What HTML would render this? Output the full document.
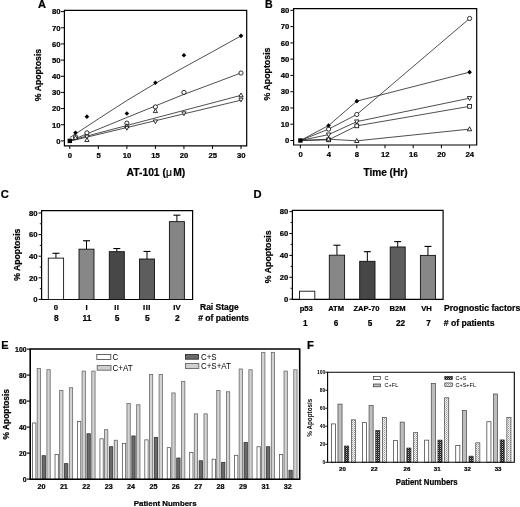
<!DOCTYPE html><html><head><meta charset="utf-8"><title>Figure</title>
<style>html,body{margin:0;padding:0;background:#fff;}svg{display:block;will-change:transform;}text{font-family:"Liberation Sans", sans-serif;}text[font-weight=bold]{stroke:#000;stroke-width:0.22px;}</style></head><body>
<svg width="520" height="507" viewBox="0 0 520 507">
<defs><pattern id="pd" width="2" height="2" patternUnits="userSpaceOnUse"><rect width="2" height="2" fill="#1c1c1c"/><rect x="0" y="0" width="1" height="1" fill="#b5b5b5"/><rect x="1" y="1" width="1" height="1" fill="#505050"/></pattern><pattern id="pl" width="2" height="2" patternUnits="userSpaceOnUse"><rect width="2" height="2" fill="#f4f4f4"/><rect x="0" y="0" width="1" height="1" fill="#9a9a9a"/><rect x="1" y="1" width="1" height="1" fill="#c4c4c4"/></pattern></defs>
<rect width="520" height="507" fill="#fff"/>
<text x="38" y="8.4" font-size="11" font-weight="bold" text-anchor="start" fill="#000">A</text>
<path d="M64.4 10.4V145.8H246.7V10.4Z" fill="none" stroke="#000" stroke-width="1.2"/>
<line x1="61" y1="140.9" x2="64.4" y2="140.9" stroke="#000" stroke-width="1"/>
<text x="60.6" y="143.7" font-size="7.7" font-weight="bold" text-anchor="end" fill="#000">0</text>
<line x1="61" y1="124.74" x2="64.4" y2="124.74" stroke="#000" stroke-width="1"/>
<text x="60.6" y="127.54" font-size="7.7" font-weight="bold" text-anchor="end" fill="#000">10</text>
<line x1="61" y1="108.58" x2="64.4" y2="108.58" stroke="#000" stroke-width="1"/>
<text x="60.6" y="111.38" font-size="7.7" font-weight="bold" text-anchor="end" fill="#000">20</text>
<line x1="61" y1="92.42" x2="64.4" y2="92.42" stroke="#000" stroke-width="1"/>
<text x="60.6" y="95.22" font-size="7.7" font-weight="bold" text-anchor="end" fill="#000">30</text>
<line x1="61" y1="76.26" x2="64.4" y2="76.26" stroke="#000" stroke-width="1"/>
<text x="60.6" y="79.06" font-size="7.7" font-weight="bold" text-anchor="end" fill="#000">40</text>
<line x1="61" y1="60.1" x2="64.4" y2="60.1" stroke="#000" stroke-width="1"/>
<text x="60.6" y="62.9" font-size="7.7" font-weight="bold" text-anchor="end" fill="#000">50</text>
<line x1="61" y1="43.94" x2="64.4" y2="43.94" stroke="#000" stroke-width="1"/>
<text x="60.6" y="46.74" font-size="7.7" font-weight="bold" text-anchor="end" fill="#000">60</text>
<line x1="61" y1="27.78" x2="64.4" y2="27.78" stroke="#000" stroke-width="1"/>
<text x="60.6" y="30.58" font-size="7.7" font-weight="bold" text-anchor="end" fill="#000">70</text>
<line x1="61" y1="11.62" x2="64.4" y2="11.62" stroke="#000" stroke-width="1"/>
<text x="60.6" y="14.42" font-size="7.7" font-weight="bold" text-anchor="end" fill="#000">80</text>
<line x1="69.8" y1="145.8" x2="69.8" y2="149" stroke="#000" stroke-width="1"/>
<text x="70" y="157.8" font-size="7.7" font-weight="bold" text-anchor="middle" fill="#000">0</text>
<line x1="98.33" y1="145.8" x2="98.33" y2="149" stroke="#000" stroke-width="1"/>
<text x="98.53" y="157.8" font-size="7.7" font-weight="bold" text-anchor="middle" fill="#000">5</text>
<line x1="126.87" y1="145.8" x2="126.87" y2="149" stroke="#000" stroke-width="1"/>
<text x="127.07" y="157.8" font-size="7.7" font-weight="bold" text-anchor="middle" fill="#000">10</text>
<line x1="155.41" y1="145.8" x2="155.41" y2="149" stroke="#000" stroke-width="1"/>
<text x="155.6" y="157.8" font-size="7.7" font-weight="bold" text-anchor="middle" fill="#000">15</text>
<line x1="183.94" y1="145.8" x2="183.94" y2="149" stroke="#000" stroke-width="1"/>
<text x="184.14" y="157.8" font-size="7.7" font-weight="bold" text-anchor="middle" fill="#000">20</text>
<line x1="212.47" y1="145.8" x2="212.47" y2="149" stroke="#000" stroke-width="1"/>
<text x="212.67" y="157.8" font-size="7.7" font-weight="bold" text-anchor="middle" fill="#000">25</text>
<line x1="241.01" y1="145.8" x2="241.01" y2="149" stroke="#000" stroke-width="1"/>
<text x="241.21" y="157.8" font-size="7.7" font-weight="bold" text-anchor="middle" fill="#000">30</text>
<text x="126.6" y="175.8" font-size="10.3" font-weight="bold" text-anchor="start" fill="#000">AT-101 (<tspan font-weight="normal">μ</tspan><tspan dx="1.3">M)</tspan></text>
<text x="41.2" y="75" font-size="8.7" font-weight="bold" text-anchor="middle" fill="#000" transform="rotate(-90 41.2 75)">% Apoptosis</text>
<polyline points="69.8,137.67 98.33,118.92 126.87,100.5 155.41,83.37 183.94,67.37 212.47,51.7 241.01,35.86" fill="none" stroke="#222" stroke-width="0.8"/>
<polyline points="69.8,140.9 126.87,117.47 183.94,94.36 241.01,73.03" fill="none" stroke="#222" stroke-width="0.8"/>
<polyline points="69.8,140.58 241.01,95.33" fill="none" stroke="#222" stroke-width="0.8"/>
<polyline points="69.8,141.22 241.01,100.18" fill="none" stroke="#222" stroke-width="0.8"/>
<path d="M75.51 130.52L77.81 132.82L75.51 135.12L73.21 132.82Z" fill="#000"/>
<path d="M86.92 114.36L89.22 116.66L86.92 118.96L84.62 116.66Z" fill="#000"/>
<path d="M126.87 111.13L129.17 113.43L126.87 115.73L124.57 113.43Z" fill="#000"/>
<path d="M155.41 80.42L157.71 82.72L155.41 85.02L153.1 82.72Z" fill="#000"/>
<path d="M183.94 52.95L186.24 55.25L183.94 57.55L181.64 55.25Z" fill="#000"/>
<path d="M241.01 33.56L243.31 35.86L241.01 38.16L238.71 35.86Z" fill="#000"/>
<circle cx="75.51" cy="136.86" r="2.1" fill="#fff" stroke="#000" stroke-width="0.8"/>
<circle cx="86.92" cy="132.82" r="2.1" fill="#fff" stroke="#000" stroke-width="0.8"/>
<circle cx="126.87" cy="123.12" r="2.1" fill="#fff" stroke="#000" stroke-width="0.8"/>
<circle cx="155.41" cy="106.96" r="2.1" fill="#fff" stroke="#000" stroke-width="0.8"/>
<circle cx="183.94" cy="92.42" r="2.1" fill="#fff" stroke="#000" stroke-width="0.8"/>
<circle cx="241.01" cy="73.03" r="2.1" fill="#fff" stroke="#000" stroke-width="0.8"/>
<path d="M75.51 135.47L77.61 139.27L73.41 139.27Z" fill="#fff" stroke="#000" stroke-width="0.8"/>
<path d="M86.92 137.73L89.02 141.53L84.82 141.53Z" fill="#fff" stroke="#000" stroke-width="0.8"/>
<path d="M126.87 123.83L128.97 127.63L124.77 127.63Z" fill="#fff" stroke="#000" stroke-width="0.8"/>
<path d="M155.41 108.8L157.5 112.6L153.31 112.6Z" fill="#fff" stroke="#000" stroke-width="0.8"/>
<path d="M241.01 92.97L243.11 96.77L238.91 96.77Z" fill="#fff" stroke="#000" stroke-width="0.8"/>
<path d="M86.92 138.9L89.02 135.1L84.82 135.1Z" fill="#fff" stroke="#000" stroke-width="0.8"/>
<path d="M126.87 130.17L128.97 126.37L124.77 126.37Z" fill="#fff" stroke="#000" stroke-width="0.8"/>
<path d="M155.41 123.71L157.5 119.91L153.31 119.91Z" fill="#fff" stroke="#000" stroke-width="0.8"/>
<path d="M183.94 115.63L186.04 111.83L181.84 111.83Z" fill="#fff" stroke="#000" stroke-width="0.8"/>
<path d="M241.01 101.89L243.11 98.09L238.91 98.09Z" fill="#fff" stroke="#000" stroke-width="0.8"/>
<rect x="67.6" y="138.7" width="4.4" height="4.4" fill="#000"/>
<text x="265" y="7.8" font-size="10.6" font-weight="bold" text-anchor="start" fill="#000">B</text>
<path d="M293.6 8.6V145H476.7V8.6Z" fill="none" stroke="#000" stroke-width="1.2"/>
<line x1="290.4" y1="140.5" x2="293.6" y2="140.5" stroke="#000" stroke-width="1"/>
<text x="289.2" y="143.3" font-size="7.7" font-weight="bold" text-anchor="end" fill="#000">0</text>
<line x1="290.4" y1="124.23" x2="293.6" y2="124.23" stroke="#000" stroke-width="1"/>
<text x="289.2" y="127.03" font-size="7.7" font-weight="bold" text-anchor="end" fill="#000">10</text>
<line x1="290.4" y1="107.96" x2="293.6" y2="107.96" stroke="#000" stroke-width="1"/>
<text x="289.2" y="110.76" font-size="7.7" font-weight="bold" text-anchor="end" fill="#000">20</text>
<line x1="290.4" y1="91.69" x2="293.6" y2="91.69" stroke="#000" stroke-width="1"/>
<text x="289.2" y="94.49" font-size="7.7" font-weight="bold" text-anchor="end" fill="#000">30</text>
<line x1="290.4" y1="75.42" x2="293.6" y2="75.42" stroke="#000" stroke-width="1"/>
<text x="289.2" y="78.22" font-size="7.7" font-weight="bold" text-anchor="end" fill="#000">40</text>
<line x1="290.4" y1="59.15" x2="293.6" y2="59.15" stroke="#000" stroke-width="1"/>
<text x="289.2" y="61.95" font-size="7.7" font-weight="bold" text-anchor="end" fill="#000">50</text>
<line x1="290.4" y1="42.88" x2="293.6" y2="42.88" stroke="#000" stroke-width="1"/>
<text x="289.2" y="45.68" font-size="7.7" font-weight="bold" text-anchor="end" fill="#000">60</text>
<line x1="290.4" y1="26.61" x2="293.6" y2="26.61" stroke="#000" stroke-width="1"/>
<text x="289.2" y="29.41" font-size="7.7" font-weight="bold" text-anchor="end" fill="#000">70</text>
<line x1="290.4" y1="10.34" x2="293.6" y2="10.34" stroke="#000" stroke-width="1"/>
<text x="289.2" y="13.14" font-size="7.7" font-weight="bold" text-anchor="end" fill="#000">80</text>
<line x1="300.4" y1="145" x2="300.4" y2="148.2" stroke="#000" stroke-width="1"/>
<text x="300.6" y="157.1" font-size="7.7" font-weight="bold" text-anchor="middle" fill="#000">0</text>
<line x1="328.6" y1="145" x2="328.6" y2="148.2" stroke="#000" stroke-width="1"/>
<text x="328.8" y="157.1" font-size="7.7" font-weight="bold" text-anchor="middle" fill="#000">4</text>
<line x1="356.8" y1="145" x2="356.8" y2="148.2" stroke="#000" stroke-width="1"/>
<text x="357" y="157.1" font-size="7.7" font-weight="bold" text-anchor="middle" fill="#000">8</text>
<line x1="385" y1="145" x2="385" y2="148.2" stroke="#000" stroke-width="1"/>
<text x="385.2" y="157.1" font-size="7.7" font-weight="bold" text-anchor="middle" fill="#000">12</text>
<line x1="413.2" y1="145" x2="413.2" y2="148.2" stroke="#000" stroke-width="1"/>
<text x="413.4" y="157.1" font-size="7.7" font-weight="bold" text-anchor="middle" fill="#000">16</text>
<line x1="441.4" y1="145" x2="441.4" y2="148.2" stroke="#000" stroke-width="1"/>
<text x="441.6" y="157.1" font-size="7.7" font-weight="bold" text-anchor="middle" fill="#000">20</text>
<line x1="469.6" y1="145" x2="469.6" y2="148.2" stroke="#000" stroke-width="1"/>
<text x="469.8" y="157.1" font-size="7.7" font-weight="bold" text-anchor="middle" fill="#000">24</text>
<text x="385.5" y="175.6" font-size="10.1" font-weight="bold" text-anchor="middle" fill="#000">Time (Hr)</text>
<text x="270.4" y="74" font-size="8.8" font-weight="bold" text-anchor="middle" fill="#000" transform="rotate(-90 270.4 74)">% Apoptosis</text>
<polyline points="300.4,140.5 328.6,129.11 356.8,114.47 469.6,18.47" fill="none" stroke="#222" stroke-width="0.8"/>
<polyline points="300.4,140.5 328.6,125.53 356.8,101.13 469.6,72.17" fill="none" stroke="#222" stroke-width="0.8"/>
<polyline points="300.4,140.5 328.6,134.64 356.8,121.63 469.6,98.2" fill="none" stroke="#222" stroke-width="0.8"/>
<polyline points="300.4,140.5 328.6,139.85 356.8,125.86 469.6,106.33" fill="none" stroke="#222" stroke-width="0.8"/>
<polyline points="300.4,140.5 328.6,139.2 356.8,140.83 469.6,129.11" fill="none" stroke="#222" stroke-width="0.8"/>
<circle cx="328.6" cy="129.11" r="2.1" fill="#fff" stroke="#000" stroke-width="0.8"/>
<circle cx="356.8" cy="114.47" r="2.1" fill="#fff" stroke="#000" stroke-width="0.8"/>
<circle cx="469.6" cy="18.47" r="2.1" fill="#fff" stroke="#000" stroke-width="0.8"/>
<path d="M328.6 123.23L330.9 125.53L328.6 127.83L326.3 125.53Z" fill="#000"/>
<path d="M356.8 98.83L359.1 101.13L356.8 103.43L354.5 101.13Z" fill="#000"/>
<path d="M469.6 69.87L471.9 72.17L469.6 74.47L467.3 72.17Z" fill="#000"/>
<path d="M328.6 136.95L330.8 132.96L326.39 132.96Z" fill="#fff" stroke="#000" stroke-width="0.8"/>
<path d="M356.8 123.94L359 119.95L354.59 119.95Z" fill="#fff" stroke="#000" stroke-width="0.8"/>
<path d="M469.6 100.51L471.8 96.52L467.39 96.52Z" fill="#fff" stroke="#000" stroke-width="0.8"/>
<rect x="326.71" y="137.96" width="3.78" height="3.78" fill="#fff" stroke="#000" stroke-width="0.8"/>
<rect x="354.91" y="123.97" width="3.78" height="3.78" fill="#fff" stroke="#000" stroke-width="0.8"/>
<rect x="467.71" y="104.44" width="3.78" height="3.78" fill="#fff" stroke="#000" stroke-width="0.8"/>
<path d="M328.6 136.89L330.8 140.88L326.39 140.88Z" fill="#fff" stroke="#000" stroke-width="0.8"/>
<path d="M356.8 138.52L359 142.51L354.59 142.51Z" fill="#fff" stroke="#000" stroke-width="0.8"/>
<path d="M469.6 126.8L471.8 130.79L467.39 130.79Z" fill="#fff" stroke="#000" stroke-width="0.8"/>
<rect x="298.2" y="138.3" width="4.4" height="4.4" fill="#000"/>
<text x="0.8" y="197.9" font-size="11.2" font-weight="bold" text-anchor="start" fill="#000">C</text>
<path d="M41.6 210.6V299.5H192.6V210.6Z" fill="none" stroke="#000" stroke-width="1.2"/>
<line x1="38.6" y1="299.4" x2="41.6" y2="299.4" stroke="#000" stroke-width="1"/>
<text x="37.5" y="302.1" font-size="7.7" font-weight="bold" text-anchor="end" fill="#000">0</text>
<line x1="39.8" y1="288.6" x2="41.6" y2="288.6" stroke="#000" stroke-width="0.9"/>
<line x1="38.6" y1="277.8" x2="41.6" y2="277.8" stroke="#000" stroke-width="1"/>
<text x="37.5" y="280.5" font-size="7.7" font-weight="bold" text-anchor="end" fill="#000">20</text>
<line x1="39.8" y1="267" x2="41.6" y2="267" stroke="#000" stroke-width="0.9"/>
<line x1="38.6" y1="256.2" x2="41.6" y2="256.2" stroke="#000" stroke-width="1"/>
<text x="37.5" y="258.9" font-size="7.7" font-weight="bold" text-anchor="end" fill="#000">40</text>
<line x1="39.8" y1="245.4" x2="41.6" y2="245.4" stroke="#000" stroke-width="0.9"/>
<line x1="38.6" y1="234.6" x2="41.6" y2="234.6" stroke="#000" stroke-width="1"/>
<text x="37.5" y="237.3" font-size="7.7" font-weight="bold" text-anchor="end" fill="#000">60</text>
<line x1="39.8" y1="223.8" x2="41.6" y2="223.8" stroke="#000" stroke-width="0.9"/>
<line x1="38.6" y1="213" x2="41.6" y2="213" stroke="#000" stroke-width="1"/>
<text x="37.5" y="215.7" font-size="7.7" font-weight="bold" text-anchor="end" fill="#000">80</text>
<line x1="55.95" y1="258.14" x2="55.95" y2="253.28" stroke="#000" stroke-width="1"/>
<line x1="52.45" y1="253.28" x2="59.45" y2="253.28" stroke="#000" stroke-width="1.1"/>
<rect x="48.3" y="258.14" width="15.3" height="41.36" fill="#ffffff" stroke="#111" stroke-width="0.9"/>
<line x1="86.5" y1="249.18" x2="86.5" y2="240.76" stroke="#000" stroke-width="1"/>
<line x1="83" y1="240.76" x2="90" y2="240.76" stroke="#000" stroke-width="1.1"/>
<rect x="79" y="249.18" width="15" height="50.32" fill="#878787" stroke="#111" stroke-width="0.9"/>
<line x1="116.8" y1="251.66" x2="116.8" y2="248.53" stroke="#000" stroke-width="1"/>
<line x1="113.3" y1="248.53" x2="120.3" y2="248.53" stroke="#000" stroke-width="1.1"/>
<rect x="109.3" y="251.66" width="15" height="47.84" fill="#474747" stroke="#111" stroke-width="0.9"/>
<line x1="147" y1="259.01" x2="147" y2="251.45" stroke="#000" stroke-width="1"/>
<line x1="143.5" y1="251.45" x2="150.5" y2="251.45" stroke="#000" stroke-width="1.1"/>
<rect x="139.5" y="259.01" width="15" height="40.49" fill="#5d5d5d" stroke="#111" stroke-width="0.9"/>
<line x1="176.9" y1="221.64" x2="176.9" y2="215.16" stroke="#000" stroke-width="1"/>
<line x1="173.4" y1="215.16" x2="180.4" y2="215.16" stroke="#000" stroke-width="1.1"/>
<rect x="169.4" y="221.64" width="15" height="77.86" fill="#858585" stroke="#111" stroke-width="0.9"/>
<text x="55.95" y="310.4" font-size="7.7" font-weight="bold" text-anchor="middle" fill="#000">0</text>
<text x="56.35" y="320.8" font-size="8.4" font-weight="bold" text-anchor="middle" fill="#000">8</text>
<text x="86.5" y="310.4" font-size="7.7" font-weight="bold" text-anchor="middle" fill="#000">I</text>
<text x="86.9" y="320.8" font-size="8.4" font-weight="bold" text-anchor="middle" fill="#000">11</text>
<text x="116.8" y="310.4" font-size="7.7" font-weight="bold" text-anchor="middle" fill="#000" letter-spacing="0.5">II</text>
<text x="117.2" y="320.8" font-size="8.4" font-weight="bold" text-anchor="middle" fill="#000">5</text>
<text x="147" y="310.4" font-size="7.7" font-weight="bold" text-anchor="middle" fill="#000" letter-spacing="0.5">III</text>
<text x="147.4" y="320.8" font-size="8.4" font-weight="bold" text-anchor="middle" fill="#000">5</text>
<text x="176.9" y="310.4" font-size="7.7" font-weight="bold" text-anchor="middle" fill="#000">IV</text>
<text x="177.3" y="320.8" font-size="8.4" font-weight="bold" text-anchor="middle" fill="#000">2</text>
<text x="200" y="309.9" font-size="8.5" font-weight="bold" text-anchor="start" fill="#000">Rai Stage</text>
<text x="198.2" y="320.7" font-size="8.6" font-weight="bold" text-anchor="start" fill="#000"># of patients</text>
<text x="20.2" y="254.7" font-size="8.7" font-weight="bold" text-anchor="middle" fill="#000" transform="rotate(-90 20.2 254.7)">% Apoptosis</text>
<text x="253.4" y="197.8" font-size="11.2" font-weight="bold" text-anchor="start" fill="#000">D</text>
<path d="M292.4 210.4V299.3H443.1V210.4Z" fill="none" stroke="#000" stroke-width="1.2"/>
<line x1="289.4" y1="299.2" x2="292.4" y2="299.2" stroke="#000" stroke-width="1"/>
<text x="288.2" y="301.9" font-size="7.7" font-weight="bold" text-anchor="end" fill="#000">0</text>
<line x1="290.6" y1="288.25" x2="292.4" y2="288.25" stroke="#000" stroke-width="0.9"/>
<line x1="289.4" y1="277.3" x2="292.4" y2="277.3" stroke="#000" stroke-width="1"/>
<text x="288.2" y="280" font-size="7.7" font-weight="bold" text-anchor="end" fill="#000">20</text>
<line x1="290.6" y1="266.35" x2="292.4" y2="266.35" stroke="#000" stroke-width="0.9"/>
<line x1="289.4" y1="255.4" x2="292.4" y2="255.4" stroke="#000" stroke-width="1"/>
<text x="288.2" y="258.1" font-size="7.7" font-weight="bold" text-anchor="end" fill="#000">40</text>
<line x1="290.6" y1="244.45" x2="292.4" y2="244.45" stroke="#000" stroke-width="0.9"/>
<line x1="289.4" y1="233.5" x2="292.4" y2="233.5" stroke="#000" stroke-width="1"/>
<text x="288.2" y="236.2" font-size="7.7" font-weight="bold" text-anchor="end" fill="#000">60</text>
<line x1="290.6" y1="222.55" x2="292.4" y2="222.55" stroke="#000" stroke-width="0.9"/>
<line x1="289.4" y1="211.6" x2="292.4" y2="211.6" stroke="#000" stroke-width="1"/>
<text x="288.2" y="214.3" font-size="7.7" font-weight="bold" text-anchor="end" fill="#000">80</text>
<rect x="299.5" y="291.21" width="15.3" height="8.09" fill="#ffffff" stroke="#111" stroke-width="0.9"/>
<line x1="336.95" y1="255.18" x2="336.95" y2="245.22" stroke="#000" stroke-width="1"/>
<line x1="333.45" y1="245.22" x2="340.45" y2="245.22" stroke="#000" stroke-width="1.1"/>
<rect x="329.3" y="255.18" width="15.3" height="44.12" fill="#878787" stroke="#111" stroke-width="0.9"/>
<line x1="367.35" y1="261.31" x2="367.35" y2="251.68" stroke="#000" stroke-width="1"/>
<line x1="363.85" y1="251.68" x2="370.85" y2="251.68" stroke="#000" stroke-width="1.1"/>
<rect x="359.7" y="261.31" width="15.3" height="37.99" fill="#474747" stroke="#111" stroke-width="0.9"/>
<line x1="397.7" y1="246.97" x2="397.7" y2="241.6" stroke="#000" stroke-width="1"/>
<line x1="394.2" y1="241.6" x2="401.2" y2="241.6" stroke="#000" stroke-width="1.1"/>
<rect x="390.2" y="246.97" width="15" height="52.33" fill="#5d5d5d" stroke="#111" stroke-width="0.9"/>
<line x1="427.95" y1="255.4" x2="427.95" y2="246.42" stroke="#000" stroke-width="1"/>
<line x1="424.45" y1="246.42" x2="431.45" y2="246.42" stroke="#000" stroke-width="1.1"/>
<rect x="420.4" y="255.4" width="15.1" height="43.9" fill="#878787" stroke="#111" stroke-width="0.9"/>
<text x="306.2" y="311.2" font-size="7.6" font-weight="bold" text-anchor="middle" fill="#000">p53</text>
<text x="305.4" y="325.5" font-size="8.2" font-weight="bold" text-anchor="middle" fill="#000">1</text>
<text x="336.1" y="311.2" font-size="7.6" font-weight="bold" text-anchor="middle" fill="#000">ATM</text>
<text x="336" y="325.5" font-size="8.2" font-weight="bold" text-anchor="middle" fill="#000">6</text>
<text x="366.5" y="311.2" font-size="7.6" font-weight="bold" text-anchor="middle" fill="#000">ZAP-70</text>
<text x="370" y="325.5" font-size="8.2" font-weight="bold" text-anchor="middle" fill="#000">5</text>
<text x="397.6" y="311.2" font-size="7.6" font-weight="bold" text-anchor="middle" fill="#000">B2M</text>
<text x="400.5" y="325.5" font-size="8.2" font-weight="bold" text-anchor="middle" fill="#000">22</text>
<text x="426.5" y="311.2" font-size="7.6" font-weight="bold" text-anchor="middle" fill="#000">VH</text>
<text x="428.6" y="325.5" font-size="8.2" font-weight="bold" text-anchor="middle" fill="#000">7</text>
<text x="444" y="311" font-size="8.65" font-weight="bold" text-anchor="start" fill="#000">Prognostic factors</text>
<text x="443.8" y="325.7" font-size="8.6" font-weight="bold" text-anchor="start" fill="#000"># of patients</text>
<text x="271.4" y="256.8" font-size="8.8" font-weight="bold" text-anchor="middle" fill="#000" transform="rotate(-90 271.4 256.8)">% Apoptosis</text>
<text x="1.2" y="349.1" font-size="11" font-weight="bold" text-anchor="start" fill="#000">E</text>
<rect x="32.6" y="422.95" width="3.3" height="56.35" fill="#ffffff" stroke="#555" stroke-width="0.8"/>
<rect x="37.2" y="368.48" width="3.3" height="110.82" fill="#d2d2d2" stroke="#6a6a6a" stroke-width="0.8"/>
<rect x="42.1" y="455.71" width="3.3" height="23.59" fill="#6a6a6a" stroke="#333" stroke-width="0.8"/>
<rect x="46.9" y="369.65" width="3.3" height="109.65" fill="#d2d2d2" stroke="#6a6a6a" stroke-width="0.8"/>
<text x="41.5" y="489.2" font-size="7.2" font-weight="bold" text-anchor="middle" fill="#000">20</text>
<rect x="55.04" y="454.41" width="3.3" height="24.89" fill="#ffffff" stroke="#555" stroke-width="0.8"/>
<rect x="59.64" y="390.58" width="3.3" height="88.72" fill="#d2d2d2" stroke="#6a6a6a" stroke-width="0.8"/>
<rect x="64.54" y="463.64" width="3.3" height="15.66" fill="#6a6a6a" stroke="#333" stroke-width="0.8"/>
<rect x="69.34" y="387.72" width="3.3" height="91.58" fill="#d2d2d2" stroke="#6a6a6a" stroke-width="0.8"/>
<text x="63.89" y="489.2" font-size="7.2" font-weight="bold" text-anchor="middle" fill="#000">21</text>
<rect x="77.48" y="421.39" width="3.3" height="57.91" fill="#ffffff" stroke="#555" stroke-width="0.8"/>
<rect x="82.08" y="371.08" width="3.3" height="108.22" fill="#d2d2d2" stroke="#6a6a6a" stroke-width="0.8"/>
<rect x="86.98" y="433.74" width="3.3" height="45.56" fill="#6a6a6a" stroke="#333" stroke-width="0.8"/>
<rect x="91.78" y="371.08" width="3.3" height="108.22" fill="#d2d2d2" stroke="#6a6a6a" stroke-width="0.8"/>
<text x="86.28" y="489.2" font-size="7.2" font-weight="bold" text-anchor="middle" fill="#000">22</text>
<rect x="99.92" y="438.81" width="3.3" height="40.49" fill="#ffffff" stroke="#555" stroke-width="0.8"/>
<rect x="104.52" y="429.71" width="3.3" height="49.59" fill="#d2d2d2" stroke="#6a6a6a" stroke-width="0.8"/>
<rect x="109.42" y="446.74" width="3.3" height="32.56" fill="#6a6a6a" stroke="#333" stroke-width="0.8"/>
<rect x="114.22" y="440.24" width="3.3" height="39.06" fill="#d2d2d2" stroke="#6a6a6a" stroke-width="0.8"/>
<text x="108.67" y="489.2" font-size="7.2" font-weight="bold" text-anchor="middle" fill="#000">23</text>
<rect x="122.36" y="443.36" width="3.3" height="35.94" fill="#ffffff" stroke="#555" stroke-width="0.8"/>
<rect x="126.96" y="403.45" width="3.3" height="75.85" fill="#d2d2d2" stroke="#6a6a6a" stroke-width="0.8"/>
<rect x="131.86" y="435.95" width="3.3" height="43.35" fill="#6a6a6a" stroke="#333" stroke-width="0.8"/>
<rect x="136.66" y="404.75" width="3.3" height="74.55" fill="#d2d2d2" stroke="#6a6a6a" stroke-width="0.8"/>
<text x="131.06" y="489.2" font-size="7.2" font-weight="bold" text-anchor="middle" fill="#000">24</text>
<rect x="144.8" y="439.85" width="3.3" height="39.45" fill="#ffffff" stroke="#555" stroke-width="0.8"/>
<rect x="149.4" y="374.46" width="3.3" height="104.84" fill="#d2d2d2" stroke="#6a6a6a" stroke-width="0.8"/>
<rect x="154.3" y="437.38" width="3.3" height="41.92" fill="#6a6a6a" stroke="#333" stroke-width="0.8"/>
<rect x="159.1" y="374.46" width="3.3" height="104.84" fill="#d2d2d2" stroke="#6a6a6a" stroke-width="0.8"/>
<text x="153.45" y="489.2" font-size="7.2" font-weight="bold" text-anchor="middle" fill="#000">25</text>
<rect x="167.24" y="447.65" width="3.3" height="31.65" fill="#ffffff" stroke="#555" stroke-width="0.8"/>
<rect x="171.84" y="392.92" width="3.3" height="86.38" fill="#d2d2d2" stroke="#6a6a6a" stroke-width="0.8"/>
<rect x="176.74" y="458.05" width="3.3" height="21.25" fill="#6a6a6a" stroke="#333" stroke-width="0.8"/>
<rect x="181.54" y="381.35" width="3.3" height="97.95" fill="#d2d2d2" stroke="#6a6a6a" stroke-width="0.8"/>
<text x="175.84" y="489.2" font-size="7.2" font-weight="bold" text-anchor="middle" fill="#000">26</text>
<rect x="189.68" y="452.59" width="3.3" height="26.71" fill="#ffffff" stroke="#555" stroke-width="0.8"/>
<rect x="194.28" y="413.85" width="3.3" height="65.45" fill="#d2d2d2" stroke="#6a6a6a" stroke-width="0.8"/>
<rect x="199.18" y="460.78" width="3.3" height="18.52" fill="#6a6a6a" stroke="#333" stroke-width="0.8"/>
<rect x="203.98" y="413.85" width="3.3" height="65.45" fill="#d2d2d2" stroke="#6a6a6a" stroke-width="0.8"/>
<text x="198.23" y="489.2" font-size="7.2" font-weight="bold" text-anchor="middle" fill="#000">27</text>
<rect x="212.12" y="459.22" width="3.3" height="20.08" fill="#ffffff" stroke="#555" stroke-width="0.8"/>
<rect x="216.72" y="390.45" width="3.3" height="88.85" fill="#d2d2d2" stroke="#6a6a6a" stroke-width="0.8"/>
<rect x="221.62" y="462.34" width="3.3" height="16.96" fill="#6a6a6a" stroke="#333" stroke-width="0.8"/>
<rect x="226.42" y="391.75" width="3.3" height="87.55" fill="#d2d2d2" stroke="#6a6a6a" stroke-width="0.8"/>
<text x="220.62" y="489.2" font-size="7.2" font-weight="bold" text-anchor="middle" fill="#000">28</text>
<rect x="234.56" y="455.32" width="3.3" height="23.98" fill="#ffffff" stroke="#555" stroke-width="0.8"/>
<rect x="239.16" y="369" width="3.3" height="110.3" fill="#d2d2d2" stroke="#6a6a6a" stroke-width="0.8"/>
<rect x="244.06" y="442.58" width="3.3" height="36.72" fill="#6a6a6a" stroke="#333" stroke-width="0.8"/>
<rect x="248.86" y="369.78" width="3.3" height="109.52" fill="#d2d2d2" stroke="#6a6a6a" stroke-width="0.8"/>
<text x="243.01" y="489.2" font-size="7.2" font-weight="bold" text-anchor="middle" fill="#000">29</text>
<rect x="257" y="446.74" width="3.3" height="32.56" fill="#ffffff" stroke="#555" stroke-width="0.8"/>
<rect x="261.6" y="352.36" width="3.3" height="126.94" fill="#d2d2d2" stroke="#6a6a6a" stroke-width="0.8"/>
<rect x="266.5" y="446.74" width="3.3" height="32.56" fill="#6a6a6a" stroke="#333" stroke-width="0.8"/>
<rect x="271.3" y="352.36" width="3.3" height="126.94" fill="#d2d2d2" stroke="#6a6a6a" stroke-width="0.8"/>
<text x="265.4" y="489.2" font-size="7.2" font-weight="bold" text-anchor="middle" fill="#000">31</text>
<rect x="279.44" y="454.54" width="3.3" height="24.76" fill="#ffffff" stroke="#555" stroke-width="0.8"/>
<rect x="284.04" y="371.08" width="3.3" height="108.22" fill="#d2d2d2" stroke="#6a6a6a" stroke-width="0.8"/>
<rect x="288.94" y="470.27" width="3.3" height="9.03" fill="#6a6a6a" stroke="#333" stroke-width="0.8"/>
<rect x="293.74" y="369.78" width="3.3" height="109.52" fill="#d2d2d2" stroke="#6a6a6a" stroke-width="0.8"/>
<text x="287.79" y="489.2" font-size="7.2" font-weight="bold" text-anchor="middle" fill="#000">32</text>
<path d="M30.2 349V479.3H299.7V349Z" fill="none" stroke="#000" stroke-width="1.6"/>
<line x1="27" y1="479.1" x2="30.2" y2="479.1" stroke="#000" stroke-width="1.1"/>
<text x="26.6" y="481.6" font-size="6.9" font-weight="bold" text-anchor="end" fill="#000">0</text>
<line x1="27" y1="453.1" x2="30.2" y2="453.1" stroke="#000" stroke-width="1.1"/>
<text x="26.6" y="455.6" font-size="6.9" font-weight="bold" text-anchor="end" fill="#000">20</text>
<line x1="27" y1="427.1" x2="30.2" y2="427.1" stroke="#000" stroke-width="1.1"/>
<text x="26.6" y="429.6" font-size="6.9" font-weight="bold" text-anchor="end" fill="#000">40</text>
<line x1="27" y1="401.1" x2="30.2" y2="401.1" stroke="#000" stroke-width="1.1"/>
<text x="26.6" y="403.6" font-size="6.9" font-weight="bold" text-anchor="end" fill="#000">60</text>
<line x1="27" y1="375.1" x2="30.2" y2="375.1" stroke="#000" stroke-width="1.1"/>
<text x="26.6" y="377.6" font-size="6.9" font-weight="bold" text-anchor="end" fill="#000">80</text>
<line x1="27" y1="349.1" x2="30.2" y2="349.1" stroke="#000" stroke-width="1.1"/>
<text x="26.6" y="351.6" font-size="6.9" font-weight="bold" text-anchor="end" fill="#000">100</text>
<text x="165.2" y="506.3" font-size="7.9" font-weight="bold" text-anchor="middle" fill="#000">Patient Numbers</text>
<text x="8.7" y="414.2" font-size="8.4" font-weight="bold" text-anchor="middle" fill="#000" transform="rotate(-90 8.7 414.2)">% Apoptosis</text>
<rect x="96.8" y="354.5" width="14" height="5" fill="#ffffff" stroke="#555" stroke-width="0.9"/>
<rect x="97.2" y="365.5" width="13.8" height="4.7" fill="#cfcfcf" stroke="#666" stroke-width="0.9"/>
<rect x="185.5" y="354.5" width="13" height="4.7" fill="#6a6a6a" stroke="#333" stroke-width="0.9"/>
<rect x="185.5" y="363.5" width="13.3" height="5" fill="#cfcfcf" stroke="#666" stroke-width="0.9"/>
<text x="0" y="0" font-size="9.3" font-weight="normal" transform="translate(112.5 359.8) scale(0.86 1)">C</text>
<text x="0" y="0" font-size="9.3" font-weight="normal" transform="translate(112.5 370.5) scale(0.86 1)">C+AT</text>
<text x="0" y="0" font-size="9.3" font-weight="normal" transform="translate(200.9 359.6) scale(0.86 1)">C+S</text>
<text x="0" y="0" font-size="9.3" font-weight="normal" transform="translate(200.9 368.8) scale(0.86 1)">C+S+AT</text>
<text x="307" y="348.6" font-size="11.3" font-weight="bold" text-anchor="start" fill="#000">F</text>
<rect x="331.35" y="423.91" width="4.1" height="38.39" fill="#ffffff" stroke="#333" stroke-width="0.7"/>
<rect x="337.95" y="404.09" width="4.1" height="58.21" fill="#bdbdbd" stroke="#444" stroke-width="0.7"/>
<rect x="344.65" y="446.07" width="4.1" height="16.23" fill="url(#pd)" stroke="#222" stroke-width="0.7"/>
<rect x="351.35" y="419.85" width="4.1" height="42.45" fill="url(#pl)" stroke="#444" stroke-width="0.7"/>
<rect x="362.45" y="422.65" width="4.1" height="39.65" fill="#ffffff" stroke="#333" stroke-width="0.7"/>
<rect x="369.05" y="405.62" width="4.1" height="56.68" fill="#bdbdbd" stroke="#444" stroke-width="0.7"/>
<rect x="375.75" y="430.57" width="4.1" height="31.73" fill="url(#pd)" stroke="#222" stroke-width="0.7"/>
<rect x="382.45" y="417.42" width="4.1" height="44.88" fill="url(#pl)" stroke="#444" stroke-width="0.7"/>
<rect x="393.55" y="440.67" width="4.1" height="21.63" fill="#ffffff" stroke="#333" stroke-width="0.7"/>
<rect x="400.15" y="422.11" width="4.1" height="40.2" fill="#bdbdbd" stroke="#444" stroke-width="0.7"/>
<rect x="406.85" y="448.05" width="4.1" height="14.25" fill="url(#pd)" stroke="#222" stroke-width="0.7"/>
<rect x="413.55" y="432.65" width="4.1" height="29.65" fill="url(#pl)" stroke="#444" stroke-width="0.7"/>
<rect x="424.65" y="440.13" width="4.1" height="22.17" fill="#ffffff" stroke="#333" stroke-width="0.7"/>
<rect x="431.25" y="383.54" width="4.1" height="78.76" fill="#bdbdbd" stroke="#444" stroke-width="0.7"/>
<rect x="437.95" y="440.13" width="4.1" height="22.17" fill="url(#pd)" stroke="#222" stroke-width="0.7"/>
<rect x="444.65" y="397.78" width="4.1" height="64.52" fill="url(#pl)" stroke="#444" stroke-width="0.7"/>
<rect x="455.75" y="445.53" width="4.1" height="16.77" fill="#ffffff" stroke="#333" stroke-width="0.7"/>
<rect x="462.35" y="410.39" width="4.1" height="51.91" fill="#bdbdbd" stroke="#444" stroke-width="0.7"/>
<rect x="469.05" y="456.16" width="4.1" height="6.14" fill="url(#pd)" stroke="#222" stroke-width="0.7"/>
<rect x="475.75" y="442.83" width="4.1" height="19.47" fill="url(#pl)" stroke="#444" stroke-width="0.7"/>
<rect x="486.85" y="421.74" width="4.1" height="40.56" fill="#ffffff" stroke="#333" stroke-width="0.7"/>
<rect x="493.45" y="393.99" width="4.1" height="68.31" fill="#bdbdbd" stroke="#444" stroke-width="0.7"/>
<rect x="500.15" y="439.94" width="4.1" height="22.36" fill="url(#pd)" stroke="#222" stroke-width="0.7"/>
<rect x="506.85" y="417.6" width="4.1" height="44.7" fill="url(#pl)" stroke="#444" stroke-width="0.7"/>
<path d="M327.6 372.2V462.3H514.3V372.2Z" fill="none" stroke="#000" stroke-width="1.1"/>
<line x1="325.2" y1="462.3" x2="327.6" y2="462.3" stroke="#000" stroke-width="0.9"/>
<text x="325.3" y="464.1" font-size="5" font-weight="bold" text-anchor="end" fill="#000" style="stroke:none">0</text>
<line x1="325.2" y1="444.28" x2="327.6" y2="444.28" stroke="#000" stroke-width="0.9"/>
<text x="325.3" y="446.08" font-size="5" font-weight="bold" text-anchor="end" fill="#000" style="stroke:none">20</text>
<line x1="325.2" y1="426.26" x2="327.6" y2="426.26" stroke="#000" stroke-width="0.9"/>
<text x="325.3" y="428.06" font-size="5" font-weight="bold" text-anchor="end" fill="#000" style="stroke:none">40</text>
<line x1="325.2" y1="408.24" x2="327.6" y2="408.24" stroke="#000" stroke-width="0.9"/>
<text x="325.3" y="410.04" font-size="5" font-weight="bold" text-anchor="end" fill="#000" style="stroke:none">60</text>
<line x1="325.2" y1="390.22" x2="327.6" y2="390.22" stroke="#000" stroke-width="0.9"/>
<text x="325.3" y="392.02" font-size="5" font-weight="bold" text-anchor="end" fill="#000" style="stroke:none">80</text>
<line x1="325.2" y1="372.2" x2="327.6" y2="372.2" stroke="#000" stroke-width="0.9"/>
<text x="325.3" y="374" font-size="5" font-weight="bold" text-anchor="end" fill="#000" style="stroke:none">100</text>
<text x="342.5" y="471.2" font-size="6.1" font-weight="bold" text-anchor="middle" fill="#000">20</text>
<text x="374.2" y="471.2" font-size="6.1" font-weight="bold" text-anchor="middle" fill="#000">22</text>
<text x="407" y="471.2" font-size="6.1" font-weight="bold" text-anchor="middle" fill="#000">26</text>
<text x="437.2" y="471.2" font-size="6.1" font-weight="bold" text-anchor="middle" fill="#000">31</text>
<text x="467.4" y="471.2" font-size="6.1" font-weight="bold" text-anchor="middle" fill="#000">32</text>
<text x="498.1" y="471.2" font-size="6.1" font-weight="bold" text-anchor="middle" fill="#000">33</text>
<text x="426.7" y="485.3" font-size="8.7" font-weight="bold" text-anchor="middle" fill="#000" textLength="62" lengthAdjust="spacingAndGlyphs">Patient Numbers</text>
<text x="312.2" y="417.7" font-size="6.3" font-weight="bold" text-anchor="middle" fill="#000" transform="rotate(-90 312.2 417.7)" style="stroke:none">% Apoptosis</text>
<rect x="373.5" y="376.5" width="6.9" height="2.9" fill="#ffffff" stroke="#333" stroke-width="0.7"/>
<rect x="373.5" y="384" width="6.9" height="2.8" fill="#bdbdbd" stroke="#333" stroke-width="0.7"/>
<rect x="444.8" y="376.5" width="7.5" height="2.9" fill="url(#pd)" stroke="#222" stroke-width="0.7"/>
<rect x="444.8" y="383" width="7.5" height="3.3" fill="url(#pl)" stroke="#333" stroke-width="0.7"/>
<text x="384.6" y="380" font-size="5.5" font-weight="normal" text-anchor="start" fill="#000">C</text>
<text x="384.6" y="387.2" font-size="5.5" font-weight="normal" text-anchor="start" fill="#000">C+FL</text>
<text x="455.5" y="380" font-size="5.5" font-weight="normal" text-anchor="start" fill="#000">C+S</text>
<text x="455.5" y="386.6" font-size="5.5" font-weight="normal" text-anchor="start" fill="#000">C+S+FL</text>
</svg></body></html>
